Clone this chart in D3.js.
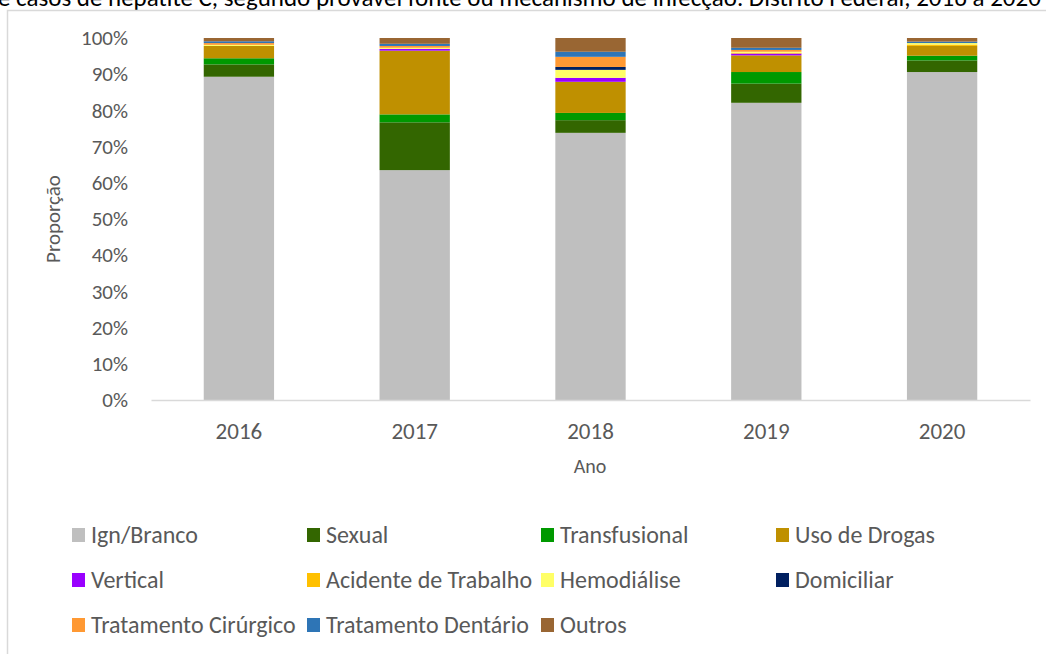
<!DOCTYPE html>
<html>
<head>
<meta charset="utf-8">
<script src="https://cdn.jsdelivr.net/npm/d3@7"></script>
<style>
  body { margin: 0; background: #fff; }
  svg { display: block; }
  text { font-family: Calibri, Carlito, Lato, sans-serif; }
</style>
</head>
<body>
<svg width="1046" height="654"></svg>
<script>
// Categories (years)
const years = ["2016", "2017", "2018", "2019", "2020"];

// Series names (bottom to top of the stack)
const seriesNames = [
    "Ign/Branco",
    "Sexual",
    "Transfusional",
    "Uso de Drogas",
    "Vertical",
    "Acidente de Trabalho",
    "Hemodiálise",
    "Domiciliar",
    "Tratamento Cirúrgico",
    "Tratamento Dentário",
    "Outros"
];

const seriesColors = [
    "#bfbfbf",
    "#336600",
    "#009900",
    "#bf9000",
    "#9900ff",
    "#ffc000",
    "#ffff66",
    "#002060",
    "#ff9933",
    "#2e75b6",
    "#996633"
];

// Proportions (%) per series, one value per year
const ignBranco     = [89.3, 63.5, 73.8, 82.1, 90.6];
const sexual        = [3.4, 13.2, 3.5, 5.3, 3.2];
const transfusional = [1.7, 2.2, 2.0, 3.2, 1.3];
const usoDrogas     = [3.4, 17.6, 8.6, 4.6, 2.7];
const vertical      = [0.0, 0.5, 1.1, 0.5, 0.0];
const acidente      = [0.0, 0.0, 0.0, 0.2, 0.4];
const hemodialise   = [0.3, 0.3, 2.2, 0.3, 0.4];
const domiciliar    = [0.0, 0.0, 0.8, 0.0, 0.0];
const cirurgico     = [0.5, 0.5, 2.8, 0.5, 0.0];
const dentario      = [0.5, 0.6, 1.4, 0.6, 0.4];
const outros        = [0.9, 1.6, 3.8, 2.7, 1.0];

const seriesValues = [ignBranco, sexual, transfusional, usoDrogas, vertical,
    acidente, hemodialise, domiciliar, cirurgico, dentario, outros];

const yTicks = [0, 10, 20, 30, 40, 50, 60, 70, 80, 90, 100];

// build table for d3.stack
const table = years.map((y, i) => {
    const row = { year: y };
    seriesNames.forEach((s, j) => { row[s] = seriesValues[j][i]; });
    return row;
});

const svg = d3.select("svg");
const textColor = "#595959";

// title (cut at the top edge, as in the source)
svg.append("text")
    .attr("x", -2)
    .attr("y", 6)
    .attr("font-size", 25)
    .attr("fill", "#000")
    .text("e casos de hepatite C, segundo provável fonte ou mecanismo de infecção. Distrito Federal, 2016 a 2020");

// chart frame
svg.append("rect")
    .attr("x", 7.5)
    .attr("y", 10.5)
    .attr("width", 1100)
    .attr("height", 700)
    .attr("fill", "none")
    .attr("stroke", "#d9d9d9")
    .attr("stroke-width", 1.5);

const x = d3.scaleBand()
    .domain(years)
    .range([151, 1030])
    .paddingInner(0.6)
    .paddingOuter(0.3);

const y = d3.scaleLinear()
    .domain([0, 100])
    .range([400, 38]);

const stack = d3.stack().keys(seriesNames);
const layers = stack(table);

const color = d3.scaleOrdinal().domain(seriesNames).range(seriesColors);

svg.append("g")
    .selectAll("g")
    .data(layers)
    .join("g")
    .attr("fill", d => color(d.key))
    .selectAll("rect")
    .data(d => d)
    .join("rect")
    .attr("x", d => x(d.data.year))
    .attr("width", x.bandwidth())
    .attr("y", d => y(d[1]))
    .attr("height", d => y(d[0]) - y(d[1]));

// y axis (labels only)
const yAxis = d3.axisLeft(y)
    .tickValues(yTicks)
    .tickFormat(d => d + "%")
    .tickSize(0)
    .tickPadding(0);

svg.append("g")
    .attr("transform", "translate(128,0)")
    .call(yAxis)
    .call(g => g.select(".domain").remove())
    .call(g => g.selectAll("text")
        .attr("font-size", 21)
        .attr("fill", textColor)
        .attr("font-family", "Calibri, Carlito, Lato, sans-serif"));

// x axis
const xAxis = d3.axisBottom(x).tickSize(0).tickPadding(0);
svg.append("g")
    .attr("transform", "translate(0,400)")
    .call(xAxis)
    .call(g => g.select(".domain")
        .attr("stroke", "#d9d9d9")
        .attr("stroke-width", 1.5))
    .call(g => g.selectAll("text")
        .attr("dy", null)
        .attr("y", 39)
        .attr("font-size", 23)
        .attr("fill", textColor)
        .attr("font-family", "Calibri, Carlito, Lato, sans-serif"));

// axis titles
svg.append("text")
    .attr("x", 590)
    .attr("y", 473)
    .attr("text-anchor", "middle")
    .attr("font-size", 20)
    .attr("fill", textColor)
    .text("Ano");

svg.append("text")
    .attr("transform", "translate(60,219) rotate(-90)")
    .attr("text-anchor", "middle")
    .attr("font-size", 21)
    .attr("fill", textColor)
    .text("Proporção");

// legend
const legendCols = [72, 307, 541, 776];
const legendRows = [535, 580, 625];

const legend = svg.append("g")
    .selectAll("g")
    .data(seriesNames)
    .join("g")
    .attr("transform", (d, i) => `translate(${legendCols[i % 4]},${legendRows[Math.floor(i / 4)]})`);

legend.append("rect")
    .attr("x", 0)
    .attr("y", -7)
    .attr("width", 13)
    .attr("height", 14)
    .attr("fill", d => color(d));

legend.append("text")
    .attr("x", 19)
    .attr("y", 0)
    .attr("dy", "0.35em")
    .attr("font-size", 24)
    .attr("fill", textColor)
    .text(d => d);
</script>
</body>
</html>
